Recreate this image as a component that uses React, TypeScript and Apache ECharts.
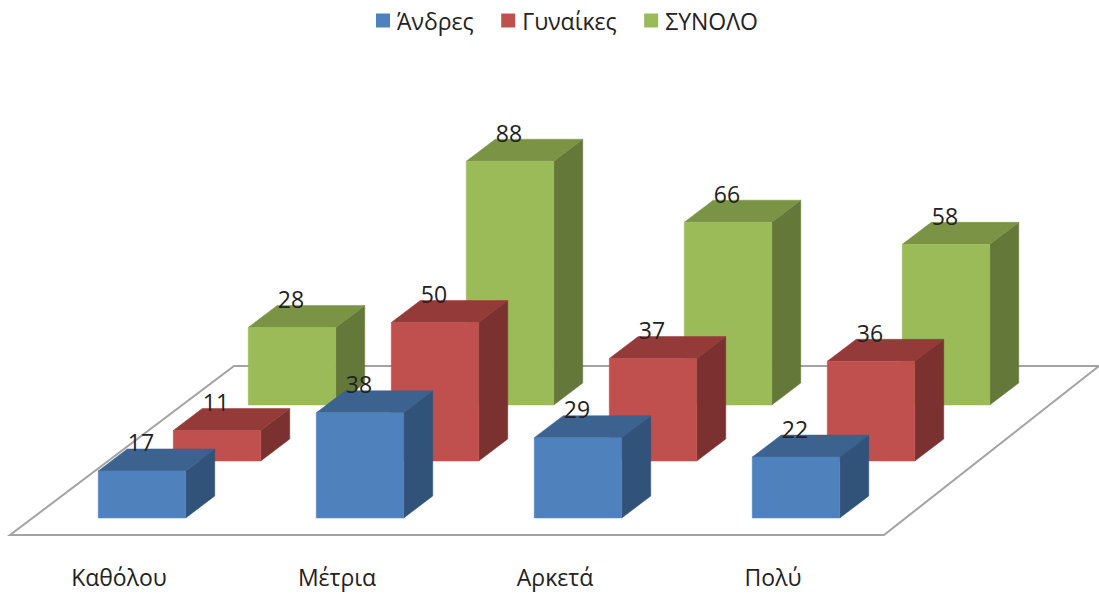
import React, { useEffect, useRef } from "react";
import * as echarts from "echarts";

const categories = ["Καθόλου", "Μέτρια", "Αρκετά", "Πολύ"];
const men = [17, 38, 29, 22];
const women = [11, 50, 37, 36];
const total = [28, 88, 66, 58];
const seriesNames = ["Άνδρες", "Γυναίκες", "ΣΥΝΟΛΟ"];

const FONT = '"Open Sans", "Noto Sans", sans-serif';
const TEXT = "#222222";
const BAR_W = 87.5;
const DEPTH_X = 29;
const DEPTH_Y = 22;

function barSeries(
  name: string,
  values: number[],
  dx: number,
  dy: number,
  front: string,
  top: string,
  side: string
) {
  return {
    type: "custom",
    name,
    coordinateSystem: "cartesian2d",
    itemStyle: { color: front },
    clip: false,
    encode: { x: 0, y: 1 },
    data: values.map((v, i) => [i, v]),
    renderItem: (_p: any, api: any) => {
      const value = api.value(1);
      const [cx, yTop0] = api.coord([api.value(0), value]);
      const [, yBase0] = api.coord([api.value(0), 0]);
      const x0 = cx + dx - BAR_W / 2;
      const x1 = x0 + BAR_W;
      const yT = yTop0 + dy;
      const yB = yBase0 + dy;
      const poly = (points: number[][], fill: string) => ({
        type: "polygon",
        shape: { points },
        style: { fill, stroke: fill, lineWidth: 0.5 },
      });
      return {
        type: "group",
        children: [
          poly(
            [
              [x1, yT],
              [x1 + DEPTH_X, yT - DEPTH_Y],
              [x1 + DEPTH_X, yB - DEPTH_Y],
              [x1, yB],
            ],
            side
          ),
          poly(
            [
              [x0, yT],
              [x0 + DEPTH_X, yT - DEPTH_Y],
              [x1 + DEPTH_X, yT - DEPTH_Y],
              [x1, yT],
            ],
            top
          ),
          poly(
            [
              [x0, yT],
              [x1, yT],
              [x1, yB],
              [x0, yB],
            ],
            front
          ),
          {
            type: "text",
            x: cx + dx - 1,
            y: yT - DEPTH_Y - 6.5,
            z2: 10,
            style: {
              text: String(value),
              fill: TEXT,
              font: `23px ${FONT}`,
              textAlign: "center",
              textVerticalAlign: "middle",
            },
          },
        ],
      };
    },
  };
}

export default function App() {
  const ref = useRef<HTMLDivElement>(null);
  useEffect(() => {
    const chart = echarts.init(ref.current!, null, { renderer: "svg" });
    chart.setOption({
      animation: false,
      backgroundColor: "#ffffff",
      textStyle: { fontFamily: FONT },
      legend: {
        data: seriesNames,
        left: 371,
        top: 4,
        icon: "rect",
        itemWidth: 14,
        itemHeight: 14,
        itemGap: 27.5,
        textStyle: { fontSize: 23, color: TEXT, fontFamily: FONT, padding: [0, 0, 0, 2] },
        selectedMode: false,
      },
      grid: { left: 10, width: 872, top: 258, height: 277 },
      xAxis: {
        type: "category",
        data: categories,
        axisLine: { show: false },
        axisTick: { show: false },
        axisLabel: { fontSize: 23, color: TEXT, margin: 30, fontFamily: FONT },
      },
      yAxis: { type: "value", min: 0, max: 100, show: false, splitLine: { show: false } },
      graphic: [
        {
          type: "polygon",
          z: -1,
          shape: {
            points: [
              [10, 535],
              [884, 535],
              [1099, 366],
              [234, 366],
            ],
          },
          style: { fill: "#ffffff", stroke: "#A3A3A3", lineWidth: 2 },
        },
      ],
      series: [
        barSeries(seriesNames[2], total, 173, -130, "#9BBB59", "#7A9345", "#647839"),
        barSeries(seriesNames[1], women, 98, -74, "#C0504D", "#943B39", "#7A3130"),
        barSeries(seriesNames[0], men, 23, -17, "#4F81BD", "#3C6290", "#315379"),
      ],
    });
    return () => chart.dispose();
  }, []);
  return <div ref={ref} style={{ position: "absolute", left: 0, top: 0, width: 1099, height: 594 }} />;
}
